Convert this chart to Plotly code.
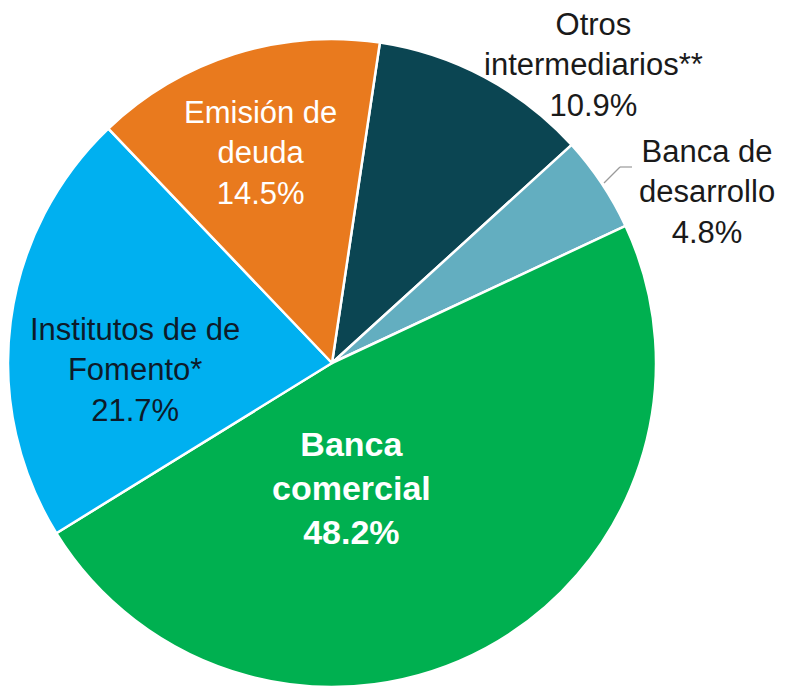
import plotly.graph_objects as go

# Data (clockwise order starting near 12 o'clock)
labels = ["Otros<br>intermediarios**", "Banca de<br>desarrollo", "Banca<br>comercial",
          "Institutos de de<br>Fomento*", "Emisión de<br>deuda"]
values = [10.9, 4.8, 48.2, 21.7, 14.5]
colors = ["#0B4552", "#63AEC0", "#00B050", "#00B0F0", "#E97A1E"]

# label styling / placement (paper coords)
label_pos = [(0.755, 0.905), (0.90, 0.72), (0.447, 0.29), (0.172, 0.462), (0.332, 0.778)]
label_color = ["#1A1A1A", "#1A1A1A", "#FFFFFF", "#0D1B2A", "#FFFFFF"]
label_bold = [False, False, True, False, False]

W, H = 786, 687
cx, cy, r = 332, 363, 324

fig = go.Figure(go.Pie(
    labels=[l.replace("<br>", " ") for l in labels],
    values=values,
    sort=False,
    direction="clockwise",
    rotation=8.5,
    textinfo="none",
    hoverinfo="label+percent",
    marker=dict(colors=colors, line=dict(color="white", width=2.5)),
    domain=dict(x=[(cx - r) / W, (cx + r) / W], y=[0, 1 - (cy - r) / H]),
    showlegend=False,
))

for lab, v, (x, y), c, b in zip(labels, values, label_pos, label_color, label_bold):
    txt = f"{lab}<br>{v}%"
    if b:
        txt = f"<b>{txt}</b>"
    fig.add_annotation(
        x=x, y=y, xref="paper", yref="paper", text=txt, showarrow=False,
        xanchor="center", yanchor="middle", align="center",
        font=dict(family="Liberation Sans, Arial, sans-serif", size=34 if b else 31, color=c),
    )

# short leader line for "Banca de desarrollo"
fig.add_shape(type="line", xref="paper", yref="paper",
              x0=604 / W, y0=1 - 183 / H, x1=620 / W, y1=1 - 167 / H,
              line=dict(color="#9A9A9A", width=1.2))
fig.add_shape(type="line", xref="paper", yref="paper",
              x0=620 / W, y0=1 - 167 / H, x1=632 / W, y1=1 - 167 / H,
              line=dict(color="#9A9A9A", width=1.2))

fig.update_layout(
    width=W, height=H,
    margin=dict(l=0, r=0, t=0, b=0),
    paper_bgcolor="white", plot_bgcolor="white",
)

fig.write_html("out.html",
               config={"displayModeBar": False},
               post_script="document.body.style.margin='0';document.body.style.overflow='hidden';")
